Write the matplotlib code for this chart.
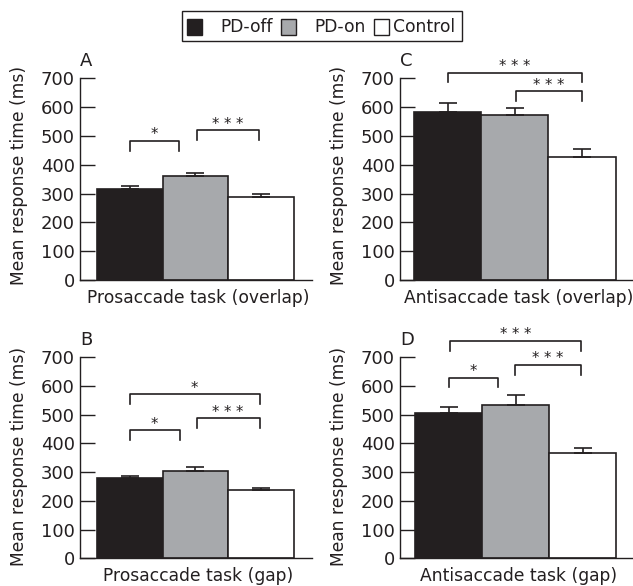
import matplotlib
matplotlib.use("Agg")
import matplotlib.pyplot as plt
from matplotlib.patches import Rectangle

plt.rcParams['font.family'] = ['DejaVu Sans']

# ---- data ----
groups = ["PD-off", "PD-on", "Control"]
colors = ["#231f20", "#a7a9ac", "#ffffff"]

panel_letters = ["A", "C", "B", "D"]
panel_titles = ["Prosaccade task (overlap)", "Antisaccade task (overlap)",
                "Prosaccade task (gap)", "Antisaccade task (gap)"]

means_A = [315, 361, 289]
errs_A = [12, 11, 11]
means_C = [583, 572, 427]
errs_C = [33, 25, 27]
means_B = [281, 305, 238]
errs_B = [7, 13, 8]
means_D = [505, 534, 368]
errs_D = [23, 34, 15]

# significance brackets: (x_start, x_end, y_top, y_leg, label)
sig_A = [(0.0, 0.75, 483, 448, "*"), (1.02, 1.97, 520, 485, "* * *")]
sig_C = [(0.0, 2.0, 720, 687, "* * *"), (1.02, 2.0, 655, 621, "* * *")]
sig_B = [(0.0, 0.76, 447, 412, "*"), (1.02, 1.98, 488, 453, "* * *"),
         (0.0, 1.98, 571, 538, "*")]
sig_D = [(0.02, 1.97, 758, 723, "* * *"), (0.0, 0.74, 629, 598, "*"),
         (0.99, 1.97, 674, 639, "* * *")]

yticks = [0, 100, 200, 300, 400, 500, 600, 700]
ylabel = "Mean response time (ms)"

# ---- layout ----
W, H = 633, 586
fig = plt.figure(figsize=(W / 100, H / 100), dpi=100)
ink = "#231f20"

def fx(px):
    return px / W

def fy(py):
    return 1 - py / H

# panel boxes in pixels: (left, top, right, bottom)
boxes = [(80, 78.3, 312, 280), (400, 78.3, 633, 280),
         (80, 357.3, 312, 558.3), (400, 357.3, 633, 558.3)]
xlims = [(-0.76, 2.78), (-0.71, 2.76), (-0.76, 2.78), (-0.73, 2.75)]
ylabel_y = [0.52, 0.52, 0.505, 0.505]

all_means = [means_A, means_C, means_B, means_D]
all_errs = [errs_A, errs_C, errs_B, errs_D]
all_sig = [sig_A, sig_C, sig_B, sig_D]

for k in range(4):
    l, t, r, b = boxes[k]
    ax = fig.add_axes([fx(l), fy(b), fx(r - l), (b - t) / H])
    xs = list(range(len(groups)))
    ax.bar(xs, all_means[k], width=1.0, color=colors, edgecolor=ink,
           linewidth=1.2, zorder=2)
    ax.errorbar(xs, all_means[k], yerr=[[0] * 3, all_errs[k]], fmt="none",
                ecolor=ink, elinewidth=1.2, capsize=6.5, capthick=1.2, zorder=3)
    ax.set_xlim(*xlims[k])
    ax.set_ylim(0, 700)
    ax.set_yticks(yticks)
    ax.set_xticks([])
    ax.tick_params(axis="y", direction="in", length=10.8, width=1.0,
                   color=ink, pad=3.6, labelsize=13, labelcolor=ink)
    for s in ["top", "right"]:
        ax.spines[s].set_visible(False)
    for s in ["left", "bottom"]:
        ax.spines[s].set_color(ink)
        ax.spines[s].set_linewidth(1.0)
    ax.set_ylabel(ylabel, fontsize=12.3, color=ink)
    ax.yaxis.set_label_coords(-0.225, ylabel_y[k])
    ax.set_xlabel(panel_titles[k], fontsize=12.3, color=ink)
    ax.xaxis.set_label_coords(0.51, -0.045)
    ax.text(0.0, 1.04, panel_letters[k], transform=ax.transAxes, fontsize=13,
            color=ink, ha="left", va="bottom")
    for (x0, x1, yt, yl, lab) in all_sig[k]:
        ax.plot([x0, x0, x1, x1], [yl, yt, yt, yl], color=ink, lw=1.2,
                clip_on=False, zorder=4)
        ax.text((x0 + x1) / 2, yt + 5, lab, ha="center", va="baseline",
                fontsize=10.5, color=ink, clip_on=False)

# ---- legend (drawn manually) ----
fig.add_artist(Rectangle((fx(182), fy(41)), fx(462 - 182), (41 - 11) / H,
                         transform=fig.transFigure, facecolor="white",
                         edgecolor=ink, linewidth=1.0))
sq_left = [187, 281, 374]
txt_left = [220, 314, 393]
for i, g in enumerate(groups):
    fig.add_artist(Rectangle((fx(sq_left[i]), fy(35)), fx(15), 16 / H,
                             transform=fig.transFigure, facecolor=colors[i],
                             edgecolor=ink, linewidth=1.0))
    fig.text(fx(txt_left[i]), fy(27), g, ha="left", va="center",
             fontsize=12.3, color=ink)

fig.savefig("out.png", dpi=100)
